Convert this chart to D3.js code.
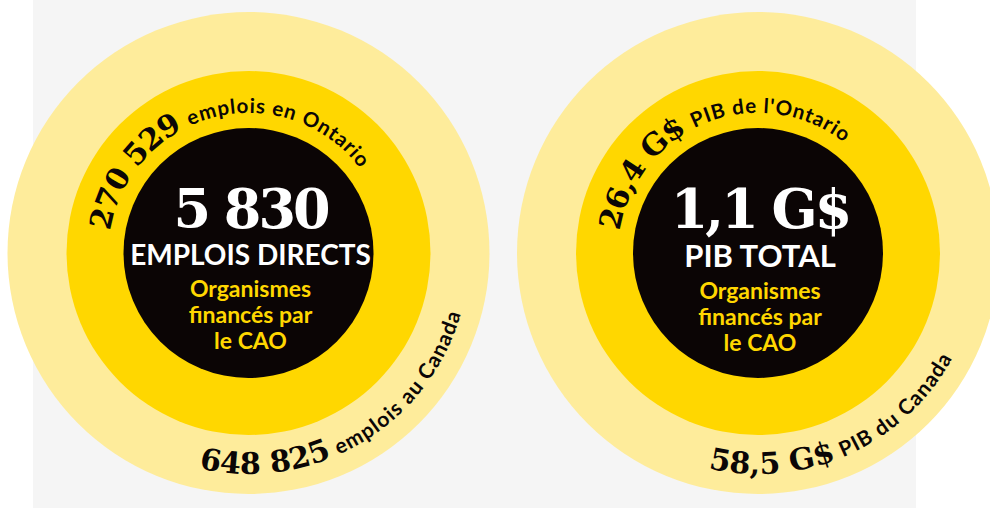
<!DOCTYPE html>
<html>
<head>
<meta charset="utf-8">
<script src="https://d3js.org/d3.v7.min.js"></script>
<style>
    body { margin: 0; background: #fff; }
    svg { display: block; }
    .num { font-family: "DejaVu Serif", serif; font-weight: bold; fill: #0b0606; }
    .lab { font-family: Lato, "Open Sans", sans-serif; font-weight: 700; fill: #0b0606; }
    .big { font-family: "DejaVu Serif", serif; font-weight: bold; fill: #fff; }
    .cap { font-family: Lato, sans-serif; font-weight: 700; fill: #fff; }
    .sub { font-family: Lato, sans-serif; font-weight: 700; fill: #ffd700; }
</style>
</head>
<body>
<div id="chart"></div>
<script>
// data
var groups = ["emplois", "pib"];
var centerValues = ["5 830", "1,1 G$"];
var centerLabels = ["EMPLOIS DIRECTS", "PIB TOTAL"];
var subLines = ["Organismes", "financés par", "le CAO"];
var ontarioValues = ["270 529", "26,4 G$"];
var ontarioLabels = ["emplois en Ontario", "PIB de l'Ontario"];
var canadaValues = ["648 825", "58,5 G$"];
var canadaLabels = ["emplois au Canada", "PIB du Canada"];

var width = 990, height = 508;
var cy = 253;
var rings = [
    { r: 241, color: "#feec9b" },
    { r: 182, color: "#ffd700" },
    { r: 125, color: "#0b0505" }
];
var capSize = [28, 31];

var x = d3.scalePoint().domain(groups).range([248.5, 758]);

var svg = d3.select("#chart").append("svg")
    .attr("width", width)
    .attr("height", height);

svg.append("rect")
    .attr("x", 33).attr("y", 0)
    .attr("width", 916 - 33).attr("height", height)
    .attr("fill", "#f5f5f5");

var deg = Math.PI / 180;

// arc for text, angles clockwise from 12 o'clock
function arcPath(cx, r, a0, a1, ccw) {
    var p = d3.path();
    p.arc(cx, cy, r, (a0 - 90) * deg, (a1 - 90) * deg, ccw);
    return p.toString();
}

var defs = svg.append("defs");

groups.forEach(function(g, i) {
    var cx = x(g);
    var grp = svg.append("g");

    grp.selectAll("circle")
        .data(rings).enter()
        .append("circle")
        .attr("cx", cx)
        .attr("cy", cy)
        .attr("r", function(d) { return d.r; })
        .attr("fill", function(d) { return d.color; });

    // top arc text (Ontario)
    defs.append("path")
        .attr("id", "top-" + g)
        .attr("d", arcPath(cx, 140, -81, 99, false));
    var t1 = grp.append("text").append("textPath").attr("href", "#top-" + g);
    t1.append("tspan").attr("class", "num").style("font-size", "30px")
        .style("letter-spacing", "-1px").text(ontarioValues[i]);
    t1.append("tspan").attr("class", "lab").attr("dx", 3).style("font-size", "20.5px")
        .style("letter-spacing", "0.9px").text(" " + ontarioLabels[i]);

    // bottom arc text (Canada)
    defs.append("path")
        .attr("id", "bot-" + g)
        .attr("d", arcPath(cx, 221, 193, 13, true));
    var t2 = grp.append("text").append("textPath").attr("href", "#bot-" + g);
    t2.append("tspan").attr("class", "num").style("font-size", "30px")
        .style("letter-spacing", "0px").text(canadaValues[i]);
    t2.append("tspan").attr("class", "lab").attr("dx", 1).style("font-size", "21px")
        .style("letter-spacing", "1.1px").text(" " + canadaLabels[i]);

    // centre
    grp.append("text").attr("class", "big")
        .attr("x", cx + 2).attr("y", cy - 25)
        .attr("text-anchor", "middle")
        .style("font-size", "54px").style("letter-spacing", "-3px")
        .text(centerValues[i]);
    grp.append("text").attr("class", "cap")
        .attr("x", cx + 2).attr("y", cy + 12 + i * 2)
        .attr("text-anchor", "middle")
        .style("font-size", capSize[i] + "px")
        .text(centerLabels[i]);
    grp.selectAll(".sub")
        .data(subLines).enter()
        .append("text").attr("class", "sub")
        .attr("x", cx + 2)
        .attr("y", function(d, j) { return cy + 44 + i * 2 + j * 26; })
        .attr("text-anchor", "middle")
        .style("font-size", "23px")
        .text(function(d) { return d; });
});
</script>
</body>
</html>
